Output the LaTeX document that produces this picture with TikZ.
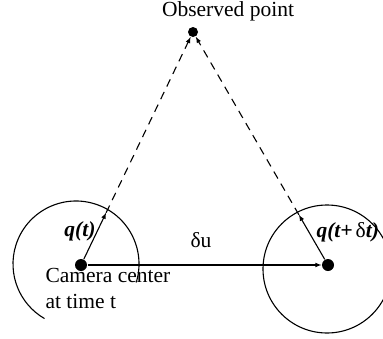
\documentclass[tikz,border=0pt]{standalone}
\usepackage{fontspec}
\setmainfont{Liberation Serif}
\usetikzlibrary{calc}
\begin{document}
\begin{tikzpicture}[x=1pt,y=-1pt,line width=1.1pt,
  dot/.style={circle,fill=black,inner sep=0pt,minimum size=#1},
  lbl/.style={inner sep=0pt,font=\fontsize{21.5}{26}\selectfont},
  vec/.style={inner sep=0pt,font=\fontsize{21.5}{26}\selectfont\bfseries\itshape},
  ray/.style={dash pattern=on 8pt off 6pt}]
\useasboundingbox (0,0) rectangle (383,338);
\clip (0,0) rectangle (383,338);
\node[dot=10pt] (obs) at (193,32) {};
\node[dot=12pt] (cam1) at (81,265) {};
\node[dot=12pt] (cam2) at (328,265) {};
\coordinate (q1) at ($(cam1.center)!58pt!(obs.center)$);
\coordinate (q2) at ($(cam2.center)!58pt!(obs.center)$);
\draw (76,264) ++(17:63) arc[start angle=17,end angle=-240,radius=63];
\draw (327,269) circle[radius=64];
\draw[-latex] (cam1) -- (cam2);
\draw[-latex] (cam1) -- (q1);
\draw[-latex] (cam2) -- (q2);
\draw[-latex,ray] (q1) -- (obs);
\draw[-latex,ray] (q2) -- (obs);
\node[lbl,anchor=base] (obstxt) at (228,16) {Observed point};
\node[vec] (qt) at (80,231) {q(t)};
\node[vec,anchor=west] (qdt) at (316,232) {q(t+\hspace{3pt}{\mdseries\upshape δ}t)};
\node[lbl] (du) at (201,240) {δu};
\node[lbl,anchor=base west,align=left] (camtxt) at (45,308) {Camera center\\at time t};
\end{tikzpicture}
\end{document}
